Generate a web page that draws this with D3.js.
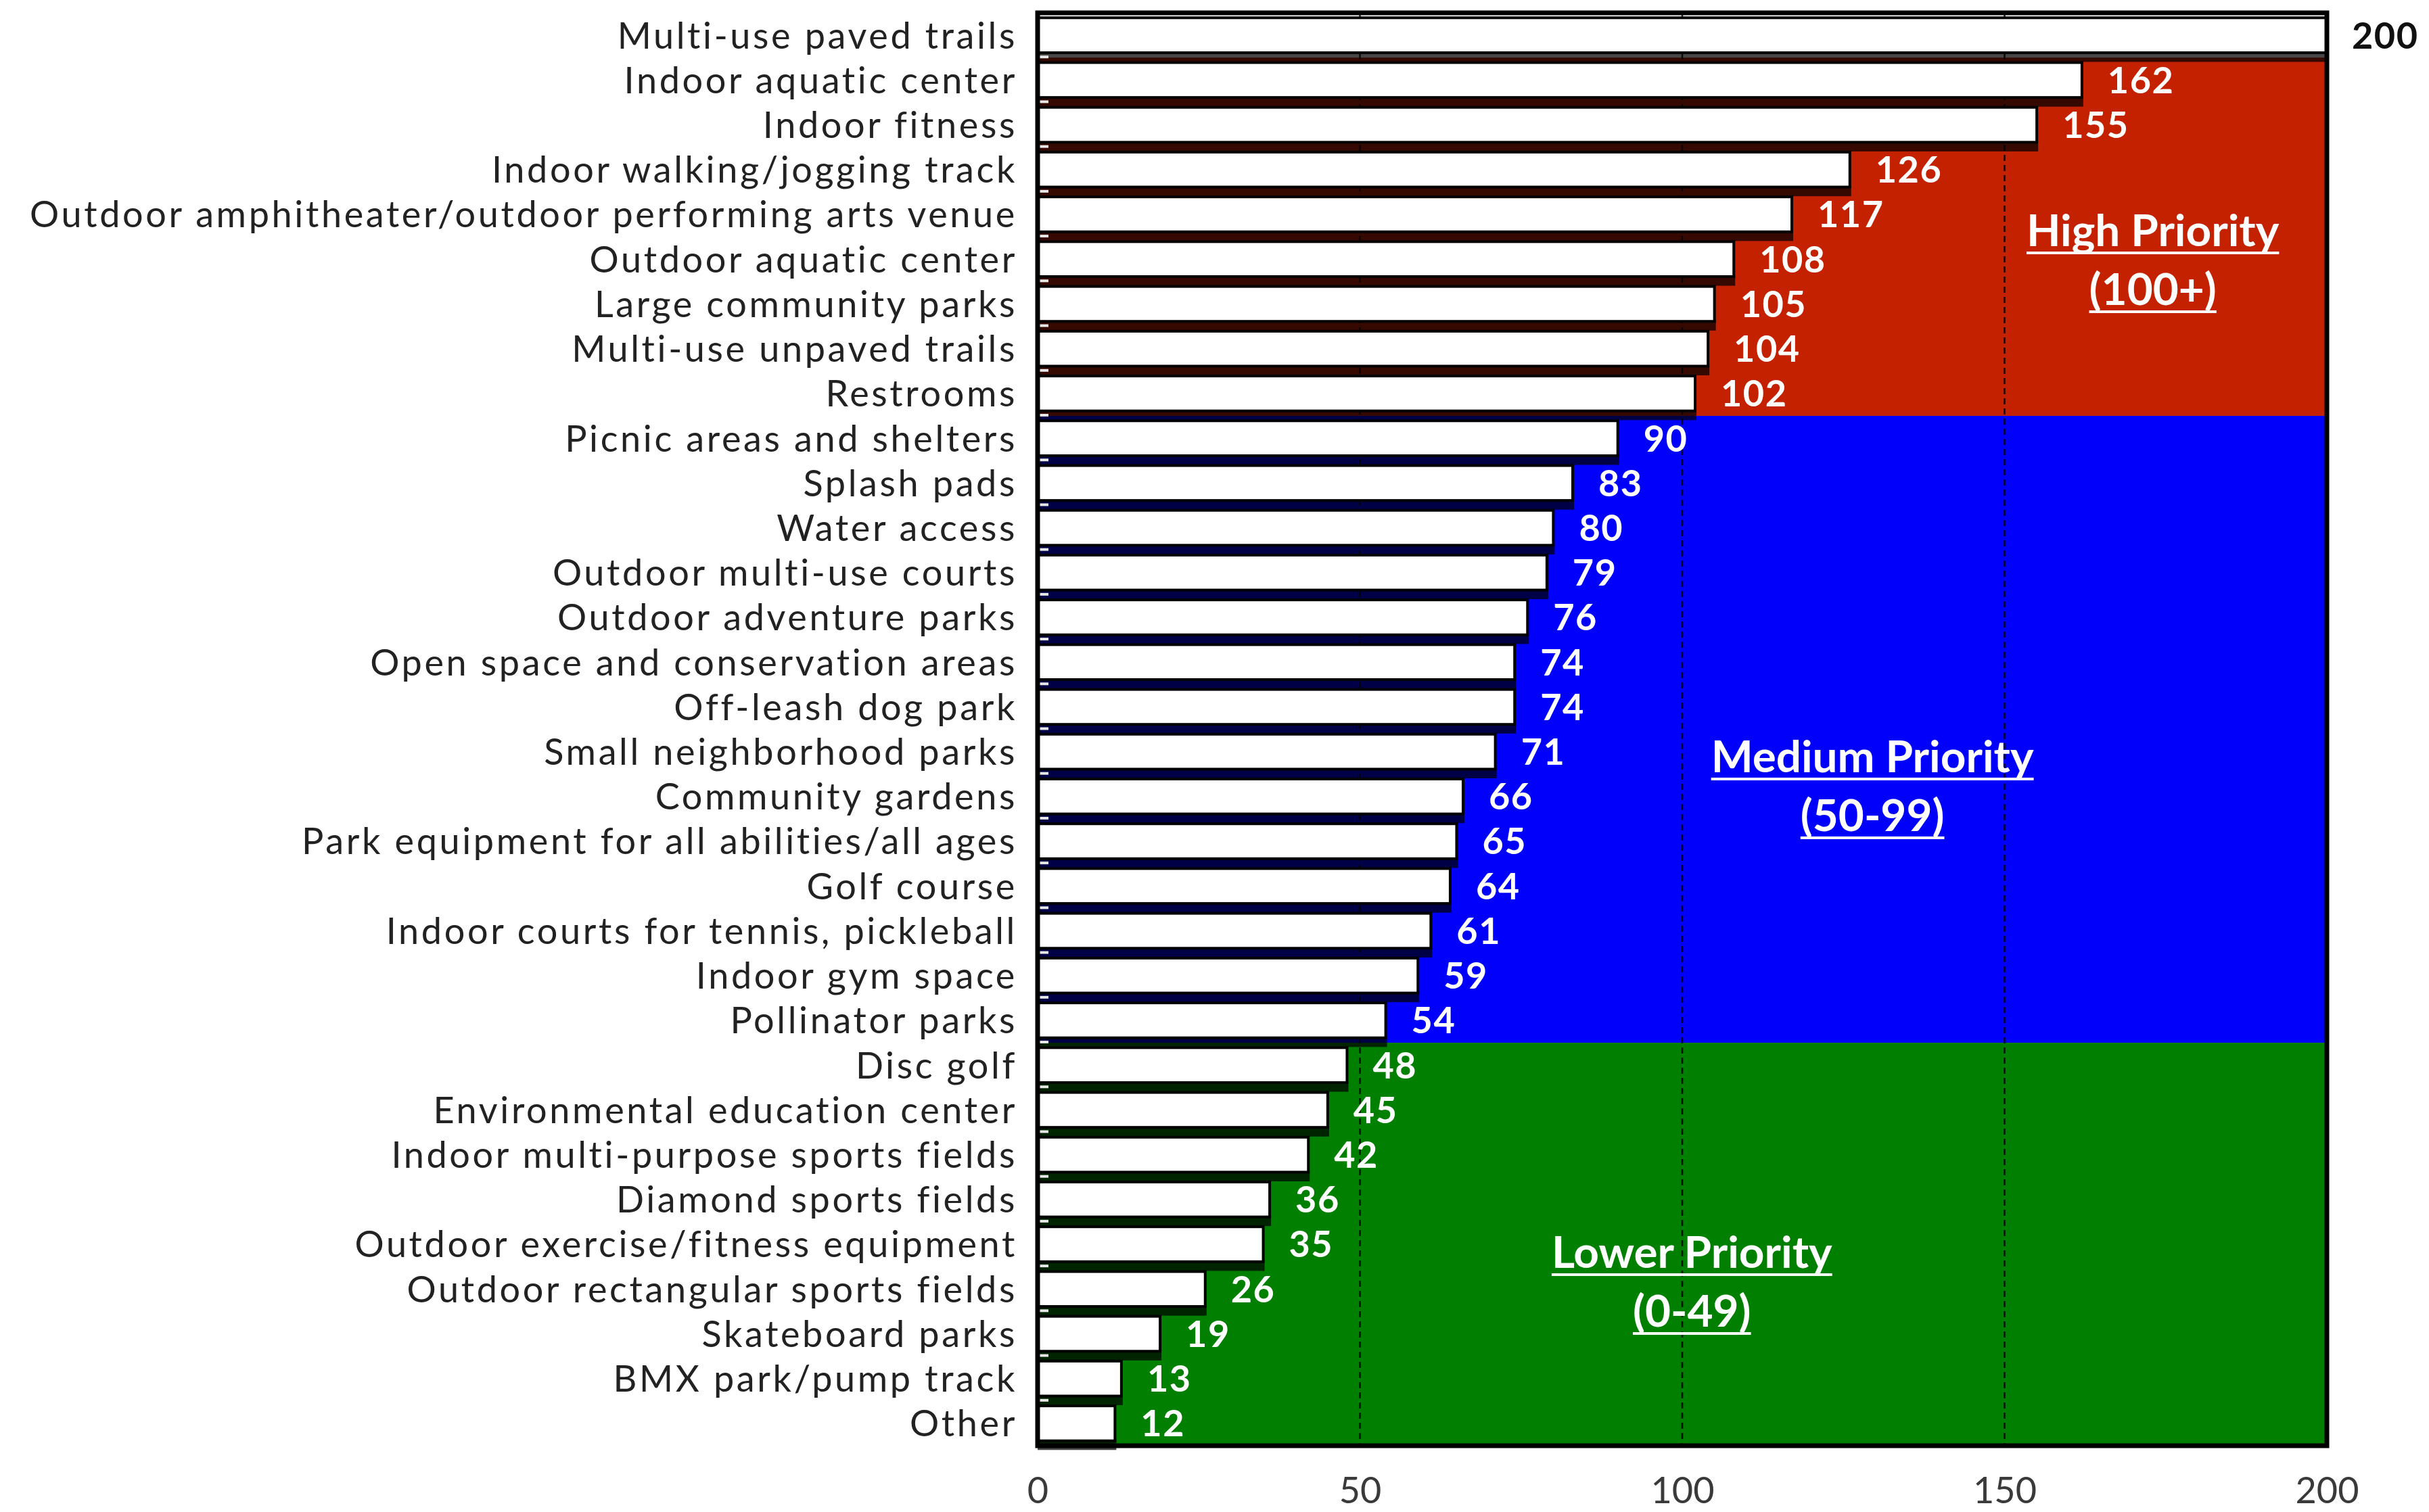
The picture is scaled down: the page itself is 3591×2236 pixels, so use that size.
<!DOCTYPE html>
<html>
<head>
<meta charset="utf-8">
<script src="https://cdn.jsdelivr.net/npm/d3@7"></script>
<style>
html,body{margin:0;padding:0;background:#fff;}
svg{display:block;}
</style>
</head>
<body>
<svg id="chart" width="3591" height="2236"></svg>
<script>
// ---- data ----
const categories = [
  "Multi-use paved trails", "Indoor aquatic center", "Indoor fitness",
  "Indoor walking/jogging track", "Outdoor amphitheater/outdoor performing arts venue",
  "Outdoor aquatic center", "Large community parks", "Multi-use unpaved trails",
  "Restrooms", "Picnic areas and shelters", "Splash pads", "Water access",
  "Outdoor multi-use courts", "Outdoor adventure parks", "Open space and conservation areas",
  "Off-leash dog park", "Small neighborhood parks", "Community gardens",
  "Park equipment for all abilities/all ages", "Golf course",
  "Indoor courts for tennis, pickleball", "Indoor gym space", "Pollinator parks",
  "Disc golf", "Environmental education center", "Indoor multi-purpose sports fields",
  "Diamond sports fields", "Outdoor exercise/fitness equipment",
  "Outdoor rectangular sports fields", "Skateboard parks", "BMX park/pump track", "Other"
];
const values = [200,162,155,126,117,108,105,104,102,90,83,80,79,76,74,74,71,66,65,64,61,59,54,48,45,42,36,35,26,19,13,12];
const xTicks = [0,50,100,150,200];
const gridValues = [50,100,150];
const groupNames = ["High Priority","Medium Priority","Lower Priority"];
const groupRanges = ["(100+)","(50-99)","(0-49)"];
const groupFirst = ["Indoor aquatic center","Picnic areas and shelters","Disc golf"];
const groupLast = ["Restrooms","Pollinator parks","Other"];
const groupColors = ["#c32100","#0000fb","#007f00"];

// ---- layout ----
const svg = d3.select("#chart");
const X0 = 1534, X1 = 3440, Y0 = 19, Y1 = 2138;
const FONT = "Lato, 'Open Sans', sans-serif";
const x = d3.scaleLinear().domain([0,200]).range([X0,X1]);
const y = d3.scaleBand().domain(categories).range([Y0,Y1]).paddingInner(0.22).paddingOuter(0.11);
const step = y.step(), bw = y.bandwidth(), halfGap = step*0.11;

function measure(text, weight, size, ls){
  const t = svg.append("text").attr("font-family",FONT).attr("font-weight",weight)
    .attr("font-size",size).attr("letter-spacing",ls||0).text(text);
  const w = t.node().getComputedTextLength(); t.remove();
  return w;
}
const labelSize = 54;
const longest = "Outdoor amphitheater/outdoor performing arts venue";
const baseW = measure(longest,"normal",labelSize,0);
const labelLS = Math.max(0,(1460-baseW)/longest.length);
const valueSize = 54;
const annSize = Math.min(66, 58*477/measure("Medium Priority","bold",58,0));

// regions
groupNames.forEach((g,i)=>{
  const top = y(groupFirst[i]) - halfGap;
  const bottom = i===groupNames.length-1 ? Y1 : y(groupLast[i]) + bw + halfGap;
  svg.append("rect").attr("x",x(0)).attr("y",top).attr("width",x(200)-x(0))
    .attr("height",bottom-top).attr("fill",groupColors[i]);
});

// dashed gridlines
svg.append("g").selectAll("line").data(gridValues).join("line")
  .attr("x1",d=>x(d)).attr("x2",d=>x(d)).attr("y1",Y0).attr("y2",Y1)
  .attr("stroke","#000").attr("stroke-width",2.5).attr("stroke-dasharray","9,6").attr("opacity",0.85);

const rows = categories.map((c,i)=>({c, v: values[i], i}));

// bar shadows
svg.append("g").selectAll("rect").data(rows).join("rect")
  .attr("x",x(0)).attr("y",d=>y(d.c)+bw-2)
  .attr("width",d=>x(d.v)-x(0)+2).attr("height",step-bw+1)
  .attr("fill","#000").attr("opacity",0.72);

// bars
svg.append("g").selectAll("rect").data(rows).join("rect")
  .attr("x",x(0)).attr("y",d=>y(d.c))
  .attr("width",d=>x(d.v)-x(0)).attr("height",bw)
  .attr("fill","#fff").attr("stroke","#000").attr("stroke-width",4);

// small white y ticks in gaps
svg.append("g").selectAll("line").data(rows.slice(1)).join("line")
  .attr("x1",x(0)+3).attr("x2",x(0)+16)
  .attr("y1",d=>y(d.c)-step*0.11-1).attr("y2",d=>y(d.c)-step*0.11-1)
  .attr("stroke","#e8e8e8").attr("stroke-width",4);

// frame
svg.append("rect").attr("x",X0).attr("y",Y0).attr("width",X1-X0).attr("height",Y1-Y0)
  .attr("fill","none").attr("stroke","#000").attr("stroke-width",7);

// category labels
svg.append("g").selectAll("text").data(rows).join("text")
  .attr("x",X0-30).attr("y",d=>y(d.c)+bw/2).attr("dy","0.36em")
  .attr("text-anchor","end").attr("font-family",FONT).attr("font-size",labelSize)
  .attr("letter-spacing",labelLS).attr("fill","#222").text(d=>d.c);

// value labels
svg.append("g").selectAll("text").data(rows).join("text")
  .attr("x",d=>x(d.v)+ (d.v>=200?37:38)).attr("y",d=>y(d.c)+bw/2).attr("dy","0.36em")
  .attr("font-family",FONT).attr("font-weight","bold").attr("font-size",valueSize)
  .attr("letter-spacing",1.5)
  .attr("fill",d=>d.v>=200?"#111":"#fff").text(d=>d.v);

// x axis tick labels
const xAxis = d3.axisBottom(x).tickValues(xTicks).tickSize(0).tickPadding(0);
const ax = svg.append("g").attr("transform",`translate(0,${2223})`).call(xAxis);
ax.select(".domain").remove();
ax.selectAll("text").attr("font-family",FONT).attr("font-size",54).attr("fill","#3a3a3a")
  .attr("dy",null).attr("y",0);

// annotations
const annX = [173,129.5,101.5];
const annY = [364,1142,1875];
groupNames.forEach((g,i)=>{
  [[g,annY[i]],[groupRanges[i],annY[i]+87]].forEach(([txt,yy])=>{
    const t = svg.append("text").attr("x",x(annX[i])).attr("y",yy)
      .attr("text-anchor","middle").attr("font-family",FONT).attr("font-weight","bold")
      .attr("font-size",annSize).attr("fill","#fff").text(txt);
    const w = t.node().getComputedTextLength();
    svg.append("line").attr("x1",x(annX[i])-w/2).attr("x2",x(annX[i])+w/2)
      .attr("y1",yy+10).attr("y2",yy+10).attr("stroke","#fff").attr("stroke-width",4);
  });
});
</script>
</body>
</html>
